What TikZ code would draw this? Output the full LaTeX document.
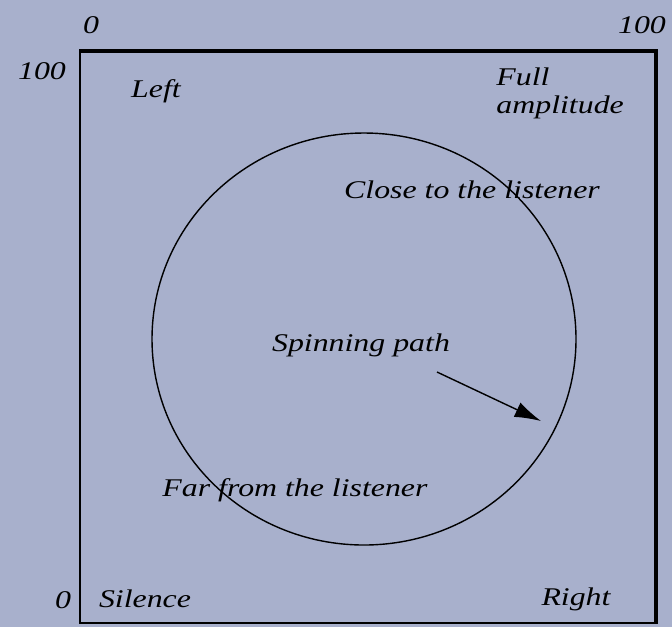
\documentclass[tikz,border=0pt]{standalone}
\usepackage{fontspec}
\setmainfont{Liberation Serif}
\usetikzlibrary{arrows.meta}
\definecolor{panel}{RGB}{168,176,204}

\begin{document}
\begin{tikzpicture}[x=0.02cm, y=-0.02cm,
    lbl/.style={font=\itshape\fontsize{14.5}{16}\selectfont, inner sep=0pt, xscale=1.25},
    edge/.style={line width=1.1pt}]
    % BACKGROUND
    \fill[panel] (0,0) rectangle (672,627);
    \useasboundingbox (0,0) rectangle (672,627);
    % BOX
    \draw[edge] (80,51) rectangle (656,623);
    \draw[line width=2.4pt] (79,51) -- (656,51) -- (656,624);
    % AXIS
    \node[lbl] (xmin) at (91,25) {0};
    \node[lbl] (xmax) at (642,25) {100};
    \node[lbl] (ymax) at (42,71) {100};
    \node[lbl] (ymin) at (63,600) {0};
    % CORNERS
    \node[lbl] (left) at (156,91) {Left};
    \node[lbl, align=left, anchor=north west] (full) at (496,67) {Full\\amplitude};
    \node[lbl] (silence) at (145,599) {Silence};
    \node[lbl] (right) at (576,599) {Right};
    % PATH
    \draw[line width=0.8pt] (364,339) ellipse (212 and 206);
    \node[lbl] (close) at (472,190) {Close to the listener};
    \node[lbl] (spin) at (361,345) {Spinning path};
    \node[lbl] (far) at (295,490) {Far from the listener};
    \coordinate (tail) at (437,372);
    \coordinate (head) at (541,421);
    \draw[line width=0.8pt, -{Latex[length=15pt, width=9pt]}] (tail) -- (head);
\end{tikzpicture}
\end{document}
